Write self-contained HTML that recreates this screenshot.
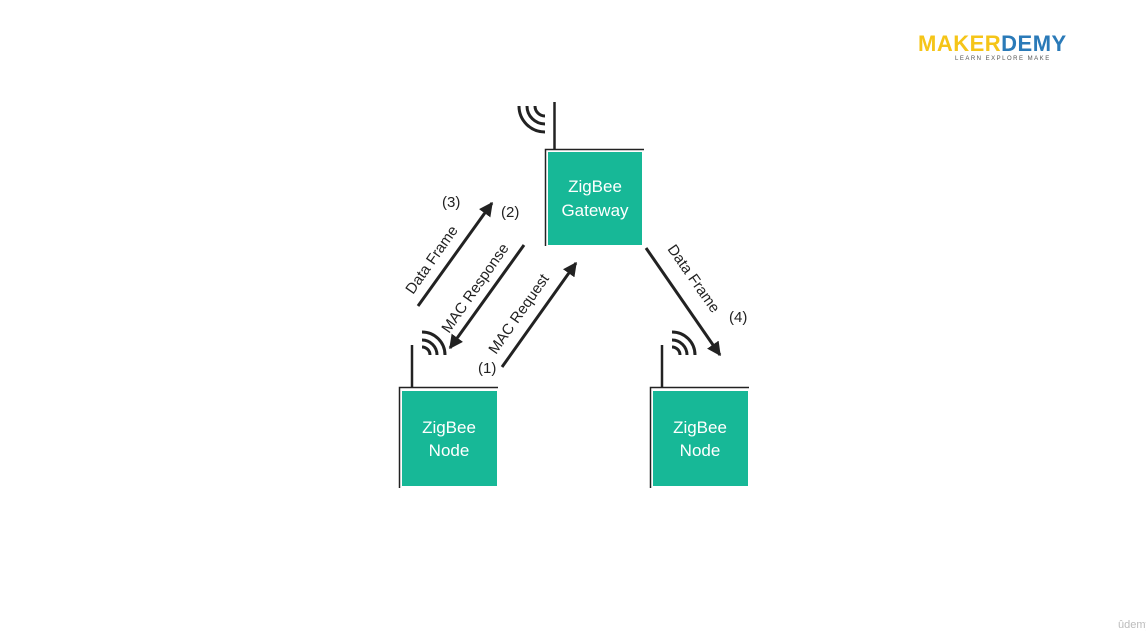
<!DOCTYPE html>
<html><head><style>
body{margin:0;background:#fff;}
svg{display:block;}
text{font-family:"Liberation Sans",sans-serif;}
</style></head><body>
<svg width="1146" height="634" viewBox="0 0 1146 634" xmlns="http://www.w3.org/2000/svg">
<defs>
<marker id="b" viewBox="0 0 10 10" markerWidth="14" markerHeight="14" refX="9" refY="5" orient="auto" markerUnits="userSpaceOnUse"><path d="M0,0 L10,5 L0,10 Z" fill="#222"/></marker></defs>
<!-- logo -->
<text x="918" y="51" font-size="22" font-weight="bold" fill="#f5c518" letter-spacing="0.5">MAKER<tspan fill="#2a7ab8">DEMY</tspan></text>
<text x="955" y="60" font-size="6" fill="#555" letter-spacing="1.5">LEARN EXPLORE MAKE</text>
<!-- gateway -->
<path d="M545.5,246 V149.5 H644" stroke="#222" stroke-width="1.5" fill="none"/>
<rect x="548" y="152" width="94" height="93" fill="#17b897"/>
<line x1="554.5" y1="102" x2="554.5" y2="149" stroke="#222" stroke-width="2.5"/>
<g stroke="#222" stroke-width="3" fill="none">
<path d="M535,106 A10,10 0 0 0 545,116"/><path d="M527,106 A18,18 0 0 0 545,124"/><path d="M519,106 A26,26 0 0 0 545,132"/>
</g>
<text x="595" y="192" font-size="17" fill="#fff" text-anchor="middle">ZigBee</text>
<text x="595" y="216" font-size="17" fill="#fff" text-anchor="middle">Gateway</text>
<!-- left node -->
<path d="M399.5,488 V387.5 H498" stroke="#222" stroke-width="1.5" fill="none"/>
<rect x="402" y="391" width="95" height="95" fill="#17b897"/>
<line x1="412" y1="345" x2="412" y2="387" stroke="#222" stroke-width="2.5"/>
<g stroke="#222" stroke-width="3" fill="none">
<path d="M422,347 A8,8 0 0 1 430,355"/><path d="M422,340 A15,15 0 0 1 437,355"/><path d="M422,332 A23,23 0 0 1 445,355"/>
</g>
<text x="449" y="433" font-size="17" fill="#fff" text-anchor="middle">ZigBee</text>
<text x="449" y="456" font-size="17" fill="#fff" text-anchor="middle">Node</text>
<!-- right node -->
<path d="M650.5,488 V387.5 H749" stroke="#222" stroke-width="1.5" fill="none"/>
<rect x="653" y="391" width="95" height="95" fill="#17b897"/>
<line x1="662" y1="345" x2="662" y2="387" stroke="#222" stroke-width="2.5"/>
<g stroke="#222" stroke-width="3" fill="none">
<path d="M672,347 A8,8 0 0 1 680,355"/><path d="M672,340 A15,15 0 0 1 687,355"/><path d="M672,332 A23,23 0 0 1 695,355"/>
</g>
<text x="700" y="433" font-size="17" fill="#fff" text-anchor="middle">ZigBee</text>
<text x="700" y="456" font-size="17" fill="#fff" text-anchor="middle">Node</text>
<!-- arrows -->
<g stroke="#222" stroke-width="3" marker-end="url(#b)">
<line x1="418" y1="306" x2="492" y2="203"/>
<line x1="524" y1="245" x2="450" y2="348"/>
<line x1="502" y1="367" x2="576" y2="263"/>
<line x1="646" y1="248" x2="720" y2="355"/>
</g>
<g font-size="15" fill="#222">
<text transform="translate(413,295) rotate(-55)">Data Frame</text>
<text transform="translate(449,334) rotate(-55)">MAC Response</text>
<text transform="translate(496,355) rotate(-55)">MAC Request</text>
<text transform="translate(667,249) rotate(55)">Data Frame</text>
<text x="442" y="207">(3)</text>
<text x="501" y="217">(2)</text>
<text x="478" y="373">(1)</text>
<text x="729" y="322">(4)</text>
</g>
<text x="1118" y="628" font-size="11" fill="#bbb">ûdemy</text>
</svg>
</body></html>
